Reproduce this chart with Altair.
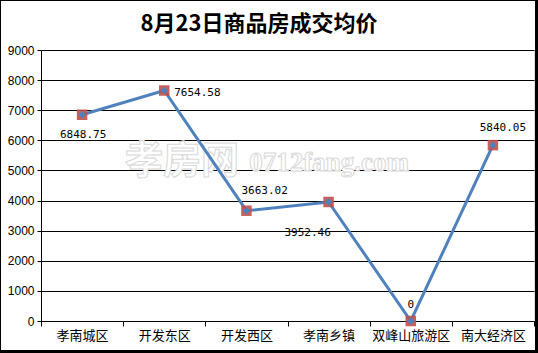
import altair as alt
import pandas as pd

categories = ["孝南城区", "开发东区", "开发西区", "孝南乡镇", "双峰山旅游区", "南大经济区"]
values = [6848.75, 7654.58, 3663.02, 3952.46, 0, 5840.05]
y_ticks = [0, 1000, 2000, 3000, 4000, 5000, 6000, 7000, 8000, 9000]
title_text = "8月23日商品房成交均价"

df = pd.DataFrame({
    "cat": categories,
    "val": values,
    "lbl": [f"{v:g}" for v in values],
})

# label placement style per category: (align, dx, dy)
label_style = {
    "孝南城区": ("center", 1, 20),
    "开发东区": ("left", 10, 2),
    "开发西区": ("left", -5, -20),
    "孝南乡镇": ("center", -21, 31),
    "双峰山旅游区": ("center", 0, -16),
    "南大经济区": ("center", 10, -17),
}

blue = "#4F81BD"
red = "#C0504D"

x_enc = alt.X("cat:N", sort=categories, title=None,
              scale=alt.Scale(paddingInner=0, paddingOuter=0),
              axis=alt.Axis(labelAngle=0, tickBand="extent", labelFont="Noto Sans CJK SC",
                            labelFontSize=13, labelColor="black", domainColor="black",
                            tickColor="black", tickSize=5, labelPadding=3, grid=False))
y_enc = alt.Y("val:Q", title=None,
              scale=alt.Scale(domain=[0, 9000], nice=False),
              axis=alt.Axis(values=y_ticks, format="d", grid=True, gridColor="black",
                            gridOpacity=1, gridWidth=1, domainColor="black", tickColor="black",
                            tickSize=4, labelFont="Liberation Sans", labelFontSize=12,
                            labelColor="black", labelPadding=3))

base = alt.Chart(df).encode(x=x_enc, y=y_enc)

one = alt.Data(values=[{}])

title = alt.Chart(one).mark_text(text=title_text, font="Noto Sans CJK SC", fontSize=22,
                                 fontWeight="bold", color="black", baseline="middle",
                                 align="center").encode(x=alt.value(218), y=alt.value(-26))

wm1 = alt.Chart(one).mark_text(text="孝房网", font="Noto Sans CJK SC", fontSize=38,
                               fontWeight="bold", fill="#ffffff", stroke="#d8d8d8",
                               strokeWidth=1, baseline="middle", align="center").encode(
    x=alt.value(141), y=alt.value(112))
wm2 = alt.Chart(one).mark_text(text="0712fang.com", font="Liberation Serif", fontSize=27,
                               fontWeight="bold", fill="#ffffff", stroke="#d8d8d8",
                               strokeWidth=1, baseline="middle", align="center").encode(
    x=alt.value(288), y=alt.value(113))

line = base.mark_line(color=blue, strokeWidth=3)
sq = base.mark_point(shape="square", filled=True, size=110, color=red, opacity=0.9)
dia = base.mark_point(shape="diamond", filled=True, size=55, color=blue, opacity=1)

texts = []
for c in categories:
    a, dx, dy = label_style[c]
    texts.append(base.transform_filter(alt.datum.cat == c).mark_text(
        align=a, dx=dx, dy=dy, baseline="middle", font="DejaVu Sans Mono",
        fontSize=11, color="black").encode(text="lbl:N"))

frame_l = alt.Chart(one).mark_rule(color="black", strokeWidth=1).encode(
    x=alt.value(-40.5), y=alt.value(-50), y2=alt.value(303))
frame_t = alt.Chart(one).mark_rule(color="black", strokeWidth=1).encode(
    x=alt.value(-41), x2=alt.value(497), y=alt.value(-49.5))
frame_r = alt.Chart(one).mark_rule(color="black", strokeWidth=3).encode(
    x=alt.value(495.5), y=alt.value(-50), y2=alt.value(303))
frame_b = alt.Chart(one).mark_rule(color="black", strokeWidth=3).encode(
    x=alt.value(-41), x2=alt.value(497), y=alt.value(301.5))

chart = alt.layer(title, wm1, wm2, line, sq, dia, *texts,
                  frame_l, frame_t, frame_r, frame_b).properties(
    width=493, height=271,
    autosize=alt.AutoSizeParams(type="none"),
    padding={"left": 41, "top": 50, "right": 4, "bottom": 32},
).configure_view(stroke=None).configure(background="white")

chart.save("out.html", embed_options={"renderer": "svg", "actions": False})
